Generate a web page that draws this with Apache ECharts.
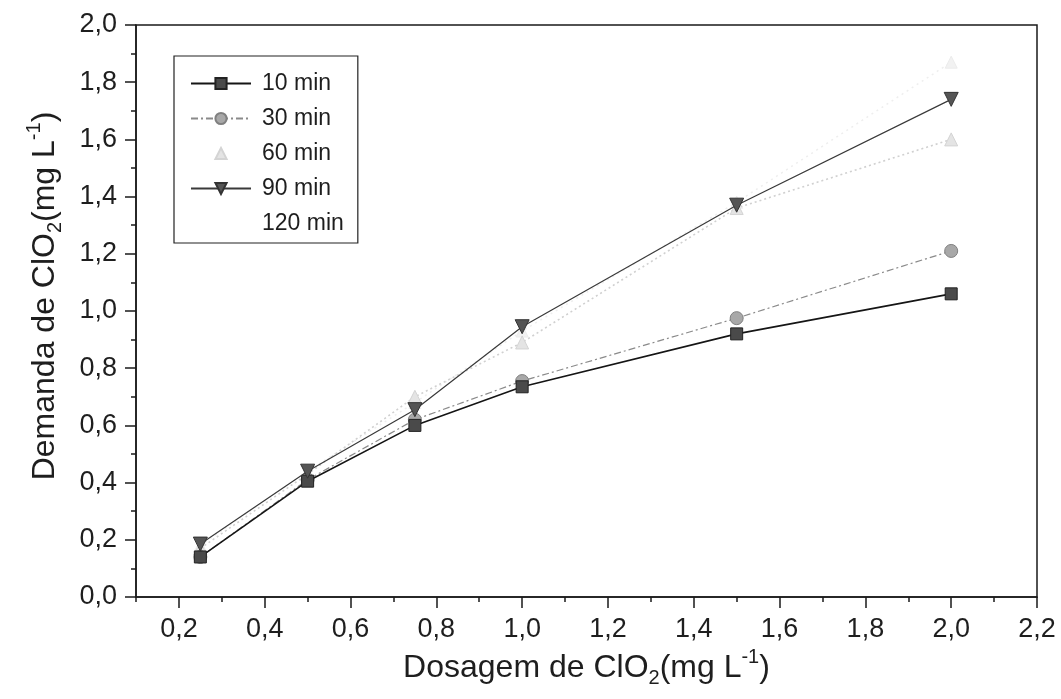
<!DOCTYPE html>
<html>
<head>
<meta charset="utf-8">
<script src="https://cdn.jsdelivr.net/npm/echarts@6/dist/echarts.min.js"></script>
<style>
html,body{margin:0;padding:0;background:#fff;}
#chart{width:1061px;height:699px;}
</style>
</head>
<body>
<div id="chart"></div>
<script>
// ---- data ----
const dosagem = [0.25, 0.5, 0.75, 1.0, 1.5, 2.0];
const min10  = [0.14, 0.405, 0.60, 0.735, 0.92, 1.06];
const min30  = [0.14, 0.41, 0.62, 0.755, 0.975, 1.21];
const min60  = [0.17, 0.43, 0.70, 0.89, 1.36, 1.60];
const min90  = [0.185, 0.44, 0.655, 0.945, 1.37, 1.74];
const min120 = [0.18, 0.44, 0.68, 0.93, 1.38, 1.87];
const seriesNames = ['10 min', '30 min', '60 min', '90 min', '120 min'];
const xMajorTicks = [0.2, 0.4, 0.6, 0.8, 1.0, 1.2, 1.4, 1.6, 1.8, 2.0, 2.2];
const xMinorTicks = [0.1, 0.3, 0.5, 0.7, 0.9, 1.1, 1.3, 1.5, 1.7, 1.9, 2.1];
const xTitle = 'Dosagem de ClO{sub|2}(mg L{sup|-1})';
const yTitle = 'Demanda de ClO{sub|2}(mg L{sup|-1})';

const FONT = 'Liberation Sans, Arial, sans-serif';
const TXT = '#1e1e1e';
const comma = v => Number(v).toFixed(1).replace('.', ',');
const pairs = ys => dosagem.map((x, i) => [x, ys[i]]);

const titleRich = {
  sub: {fontSize: 20, fontFamily: FONT, color: TXT, lineHeight: 20, padding: [21, 0, 0, 0]},
  sup: {fontSize: 20, fontFamily: FONT, color: TXT, lineHeight: 20, padding: [0, 0, 21, 0]}
};

const chart = echarts.init(document.getElementById('chart'), null, {renderer: 'canvas'});
chart.setOption({
  animation: false,
  backgroundColor: '#fff',
  grid: {left: 136, right: 24, top: 25, bottom: 102, show: true, borderColor: '#1a1a1a', borderWidth: 1.5, backgroundColor: 'transparent'},
  legend: {
    orient: 'vertical', left: 174, top: 56,
    itemWidth: 60, itemHeight: 14, itemGap: 12,
    padding: [16, 14, 8, 16],
    borderColor: '#222', borderWidth: 1.2,
    textStyle: {fontSize: 23, fontFamily: FONT, color: TXT, padding: [0, 0, 0, 6]},
    data: [
      {name: '10 min'},
      {name: '30 min'},
      {name: '60 min', lineStyle: {opacity: 0}},
      {name: '90 min'},
      {name: '120 min', lineStyle: {opacity: 0}, itemStyle: {opacity: 0}}
    ]
  },
  xAxis: [{
    type: 'value', min: 0.1, max: 2.2, position: 'bottom',
    name: xTitle, nameLocation: 'middle', nameGap: 47,
    nameTextStyle: {fontSize: 32, fontFamily: FONT, color: TXT, lineHeight: 38, rich: titleRich},
    axisLine: {show: true, lineStyle: {color: '#1a1a1a', width: 1.5}},
    axisTick: {show: true, length: 11, customValues: xMajorTicks, lineStyle: {color: '#1a1a1a', width: 1.5}},
    axisLabel: {show: true, customValues: xMajorTicks, margin: 19, fontSize: 27, fontFamily: FONT, color: TXT, formatter: comma},
    splitLine: {show: false}
  }, {
    type: 'value', min: 0.1, max: 2.2, position: 'bottom',
    axisLine: {show: false},
    axisTick: {show: true, length: 5, customValues: xMinorTicks, lineStyle: {color: '#1a1a1a', width: 1.5}},
    axisLabel: {show: false},
    splitLine: {show: false}
  }],
  yAxis: {
    type: 'value', min: 0, max: 2.0, interval: 0.2,
    name: yTitle, nameLocation: 'middle', nameGap: 72,
    nameTextStyle: {fontSize: 32, fontFamily: FONT, color: TXT, lineHeight: 38, rich: titleRich, padding: [0, 0, 0, 30]},
    axisLine: {show: true, lineStyle: {color: '#1a1a1a', width: 1.5}},
    axisTick: {show: true, length: 11, lineStyle: {color: '#1a1a1a', width: 1.5}},
    minorTick: {show: true, splitNumber: 2, length: 5, lineStyle: {color: '#1a1a1a', width: 1.5}},
    axisLabel: {margin: 19, fontSize: 27, fontFamily: FONT, color: TXT, formatter: comma},
    splitLine: {show: false}
  },
  series: [{
    name: '10 min', type: 'line', data: pairs(min10),
    symbol: 'rect', symbolSize: 12,
    lineStyle: {color: '#151515', width: 1.6},
    itemStyle: {color: '#4a4a4a', borderColor: '#222', borderWidth: 1},
    z: 6
  }, {
    name: '30 min', type: 'line', data: pairs(min30),
    symbol: 'circle', symbolSize: 13,
    lineStyle: {color: '#8a8a8a', width: 1.2, type: [7, 3, 2, 3]},
    itemStyle: {color: '#a8a8a8', borderColor: '#808080', borderWidth: 1},
    z: 5
  }, {
    name: '60 min', type: 'line', data: pairs(min60),
    symbol: 'triangle', symbolSize: 13,
    lineStyle: {color: '#d0d0d0', width: 1.6, type: [2, 3]},
    itemStyle: {color: '#e4e4e4', borderColor: '#d4d4d4', borderWidth: 1},
    z: 3
  }, {
    name: '90 min', type: 'line', data: pairs(min90),
    symbol: 'triangle', symbolRotate: 180, symbolSize: 14,
    lineStyle: {color: '#3a3a3a', width: 1.2},
    itemStyle: {color: '#555555', borderColor: '#333', borderWidth: 1},
    z: 7
  }, {
    name: '120 min', type: 'line', data: pairs(min120),
    symbol: 'triangle', symbolSize: 12,
    lineStyle: {color: '#eeeeee', width: 1.5, type: [2, 4]},
    itemStyle: {color: '#f2f2f2', borderColor: '#ececec', borderWidth: 1},
    z: 2
  }]
});
</script>
</body>
</html>
